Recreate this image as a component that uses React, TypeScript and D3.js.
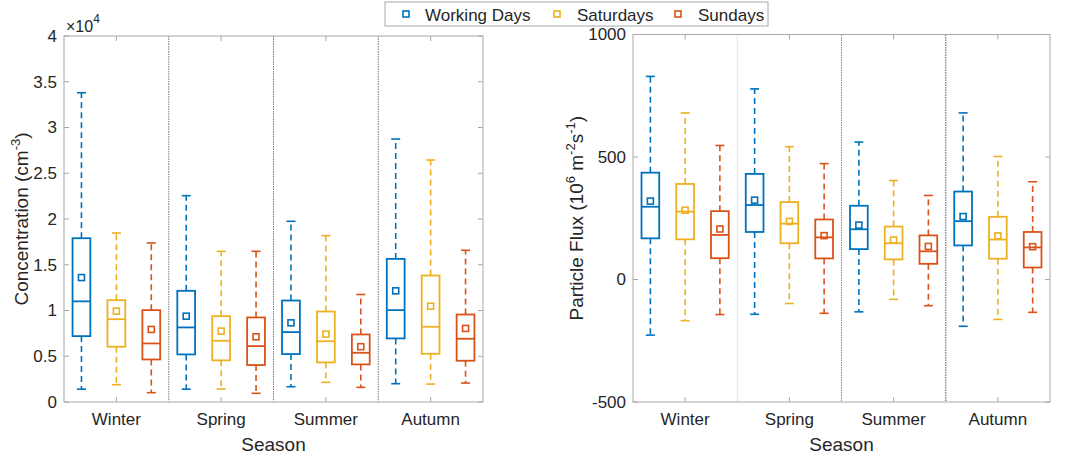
import React from "react";
import * as d3 from "d3";

const seasons = ["Winter", "Spring", "Summer", "Autumn"];
const seriesNames = ["Working Days", "Saturdays", "Sundays"];
const seriesColors = ["#0072BD", "#EDB120", "#D95319"];

// [lowerWhisker, Q1, median, Q3, upperWhisker, mean] per season
const concWorkingDays = [
  [1400, 7200, 11000, 17900, 33800, 13600],
  [1400, 5200, 8150, 12150, 22550, 9380],
  [1670, 5240, 7640, 11090, 19750, 8650],
  [2000, 6950, 10040, 15640, 28740, 12150],
];
const concSaturdays = [
  [1890, 6040, 9050, 11130, 18470, 9930],
  [1420, 4550, 6690, 9380, 16470, 7750],
  [2150, 4330, 6640, 9890, 18180, 7420],
  [1960, 5270, 8220, 13820, 26450, 10470],
];
const concSundays = [
  [1020, 4650, 6400, 10040, 17380, 7930],
  [950, 4040, 6110, 9240, 16470, 7130],
  [1600, 4110, 5380, 7380, 11750, 6040],
  [2070, 4510, 6910, 9560, 16580, 8040],
];

const fluxWorkingDays = [
  [-227, 168, 297, 436, 829, 320],
  [-142, 194, 304, 431, 778, 324],
  [-132, 124, 205, 301, 561, 222],
  [-191, 139, 238, 359, 680, 257],
];
const fluxSaturdays = [
  [-168, 164, 277, 390, 680, 283],
  [-98, 148, 228, 316, 542, 237],
  [-81, 82, 148, 216, 404, 161],
  [-163, 85, 163, 256, 502, 178],
];
const fluxSundays = [
  [-143, 87, 182, 279, 547, 206],
  [-138, 86, 172, 245, 473, 179],
  [-107, 64, 115, 180, 343, 135],
  [-134, 49, 131, 194, 399, 134],
];

const concTicks = [0, 5000, 10000, 15000, 20000, 25000, 30000, 35000, 40000];
const fluxTicks = [-500, 0, 500, 1000];

const FONT = "'Liberation Sans', Arial, Helvetica, sans-serif";
const AXIS = "#a8a8a8";
const TXT = "#262626";

type PanelProps = {
  x0: number; x1: number; y0: number; y1: number;
  domain: [number, number];
  ticks: number[];
  tickFmt: (v: number) => string;
  data: number[][][];
  sepColors: string[];
  ylabel: React.ReactNode;
  ylabelX: number;
};

function Panel(p: PanelProps) {
  const x = d3.scaleLinear().domain([0, seasons.length]).range([p.x0, p.x1]);
  const y = d3.scaleLinear().domain(p.domain).range([p.y1, p.y0]);
  const offsets = [-1 / 3, 0, 1 / 3];
  const halfW = 0.085;
  const cap = 4.5;
  const tl = 5;
  return (
    <g>
      {/* separators */}
      {[1, 2, 3].map((s, i) => (
        <line key={"sep" + s} x1={x(s)} x2={x(s)} y1={p.y0} y2={p.y1}
          stroke={p.sepColors[i]} strokeWidth={1} strokeDasharray="1.5,1" />
      ))}
      {/* boxes */}
      {p.data.map((ser, si) =>
        ser.map((st, ci) => {
          const cx = x(ci + 0.5 + offsets[si]);
          const bl = x(ci + 0.5 + offsets[si] - halfW);
          const br = x(ci + 0.5 + offsets[si] + halfW);
          const [lo, q1, med, q3, hi, mean] = st;
          const col = seriesColors[si];
          return (
            <g key={si + "-" + ci}>
              <line x1={cx} x2={cx} y1={y(q3)} y2={y(hi)} stroke={col} strokeWidth={1.6} strokeDasharray="6,4" />
              <line x1={cx} x2={cx} y1={y(q1)} y2={y(lo)} stroke={col} strokeWidth={1.6} strokeDasharray="6,4" />
              <line x1={cx - cap} x2={cx + cap} y1={y(hi)} y2={y(hi)} stroke={col} strokeWidth={1.6} />
              <line x1={cx - cap} x2={cx + cap} y1={y(lo)} y2={y(lo)} stroke={col} strokeWidth={1.6} />
              <rect x={bl} y={y(q3)} width={br - bl} height={y(q1) - y(q3)} fill="none" stroke={col} strokeWidth={1.8} />
              <line x1={bl} x2={br} y1={y(med)} y2={y(med)} stroke={col} strokeWidth={1.8} />
              <rect x={cx - 3} y={y(mean) - 3} width={6} height={6} fill="none" stroke={col} strokeWidth={1.6} />
            </g>
          );
        })
      )}
      {/* axes box */}
      <rect x={p.x0} y={p.y0} width={p.x1 - p.x0} height={p.y1 - p.y0} fill="none" stroke={AXIS} strokeWidth={1} />
      {p.ticks.map((t) => (
        <g key={"yt" + t}>
          <line x1={p.x0} x2={p.x0 + tl} y1={y(t)} y2={y(t)} stroke={AXIS} />
          <line x1={p.x1} x2={p.x1 - tl} y1={y(t)} y2={y(t)} stroke={AXIS} />
          <text x={p.x0 - 7} y={y(t)} dy="0.35em" textAnchor="end" fontSize={17} fill={TXT} fontFamily={FONT}>{p.tickFmt(t)}</text>
        </g>
      ))}
      {seasons.map((s, i) => (
        <g key={"xt" + s}>
          <line x1={x(i + 0.5)} x2={x(i + 0.5)} y1={p.y1} y2={p.y1 - tl} stroke={AXIS} />
          <line x1={x(i + 0.5)} x2={x(i + 0.5)} y1={p.y0} y2={p.y0 + tl} stroke={AXIS} />
          <text x={x(i + 0.5)} y={p.y1 + 23} textAnchor="middle" fontSize={17} fill={TXT} fontFamily={FONT}>{s}</text>
        </g>
      ))}
      <text x={(p.x0 + p.x1) / 2} y={p.y1 + 49} textAnchor="middle" fontSize={19} fill={TXT} fontFamily={FONT}>Season</text>
      <text transform={`translate(${p.ylabelX},${(p.y0 + p.y1) / 2}) rotate(-90)`} textAnchor="middle" fontSize={19} fill={TXT} fontFamily={FONT}>{p.ylabel}</text>
    </g>
  );
}

export default function App() {
  const legendX = [406, 557, 678];
  const legendTextX = [425, 577, 698];
  return (
    <svg width={1069} height={458} style={{ position: "absolute", left: 0, top: 0, background: "#fff" }}>
      <rect width={1069} height={458} fill="#fff" />
      <Panel x0={64} x1={483} y0={36} y1={402} domain={[0, 40000]} ticks={concTicks}
        tickFmt={(v) => String(v / 10000)}
        data={[concWorkingDays, concSaturdays, concSundays]}
        sepColors={["#777", "#777", "#777"]}
        ylabelX={28}
        ylabel={<>Concentration (cm<tspan dy="-8" fontSize={13}>-3</tspan><tspan dy="8">)</tspan></>} />
      <Panel x0={633} x1={1050} y0={34.5} y1={402} domain={[-500, 1000]} ticks={fluxTicks}
        tickFmt={(v) => String(v)}
        data={[fluxWorkingDays, fluxSaturdays, fluxSundays]}
        sepColors={["#cfcfcf", "#888", "#555"]}
        ylabelX={583}
        ylabel={<>Particle Flux (10<tspan dy="-8" fontSize={13}>6</tspan><tspan dy="8"> m</tspan><tspan dy="-8" fontSize={13}>-2</tspan><tspan dy="8">s</tspan><tspan dy="-8" fontSize={13}>-1</tspan><tspan dy="8">)</tspan></>} />
      <text x={66} y={32} fontSize={16} fill={TXT} fontFamily={FONT}>×10<tspan dy="-9" fontSize={12}>4</tspan></text>
      {/* legend */}
      <rect x={385} y={2} width={383} height={24} fill="#fff" stroke={AXIS} strokeWidth={1} />
      {seriesNames.map((n, i) => (
        <g key={n}>
          <rect x={legendX[i] - 3} y={11} width={6} height={6} fill="none" stroke={seriesColors[i]} strokeWidth={1.6} />
          <text x={legendTextX[i]} y={20.5} fontSize={17} fill={TXT} fontFamily={FONT}>{n}</text>
        </g>
      ))}
    </svg>
  );
}
